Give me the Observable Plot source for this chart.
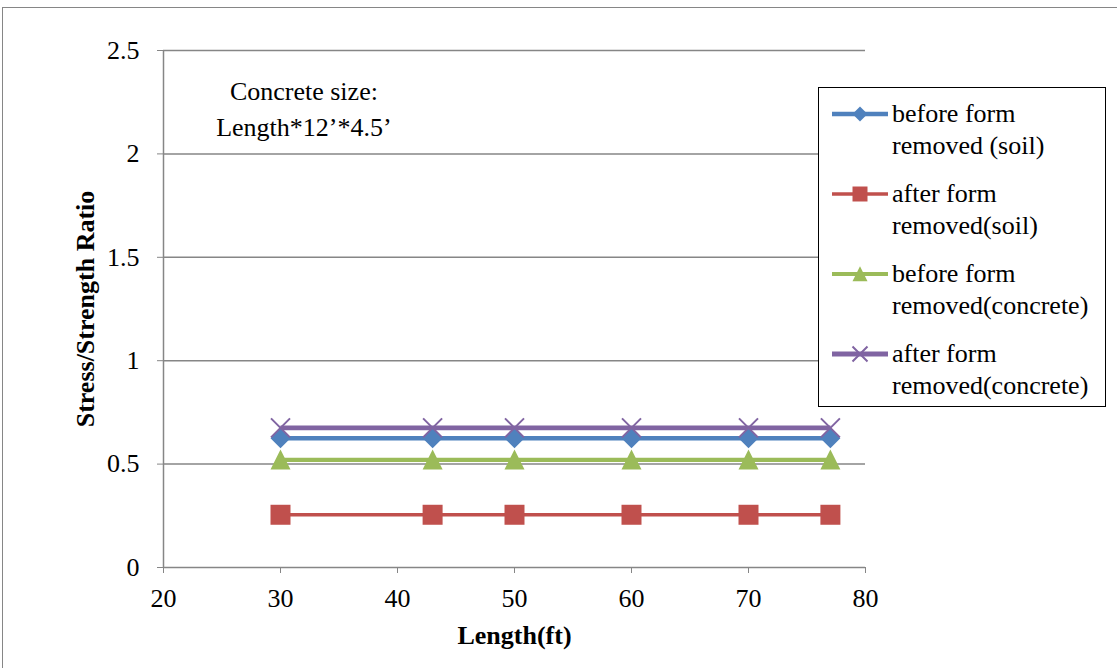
<!DOCTYPE html>
<html>
<head>
<meta charset="utf-8">
<script src="https://cdn.jsdelivr.net/npm/d3@7"></script>
<script src="https://cdn.jsdelivr.net/npm/@observablehq/plot@0.6"></script>
<style>
  body { margin: 0; background: #fff; }
  #wrap { position: relative; width: 1117px; height: 668px; overflow: hidden; font-family: 'Liberation Serif', serif; }
  #frame { position: absolute; left: 2px; top: 7px; right: -5px; bottom: -5px; border-top: 1.5px solid #868686; border-left: 1.5px solid #868686; pointer-events: none; }
  #chart { position: absolute; left: 0; top: 0; }
  #chart svg text { font-family: 'Liberation Serif', serif; }
  #legend { position: absolute; left: 818px; top: 87px; width: 286px; height: 318px; border: 1.5px solid #000; background: #fff; box-sizing: content-box; padding: 0; }
  .entry { position: absolute; left: 13px; display: flex; align-items: flex-start; }
  .entry svg { flex: none; margin-top: 6px; }
  .entry span { font-family: 'Liberation Serif', serif; font-size: 26px; line-height: 32px; margin-left: 4px; color: #000; white-space: nowrap; }
</style>
</head>
<body>
<div id="wrap">
  <div id="chart"></div>
  <div id="frame"></div>
  <div id="legend"></div>
</div>
<script>
// ---- data ----
const lengths = [30, 43, 50, 60, 70, 77];
const beforeSoil = [0.625, 0.625, 0.625, 0.625, 0.625, 0.625];
const afterSoil = [0.255, 0.255, 0.255, 0.255, 0.255, 0.255];
const beforeConcrete = [0.52, 0.52, 0.52, 0.52, 0.52, 0.52];
const afterConcrete = [0.675, 0.675, 0.675, 0.675, 0.675, 0.675];
const seriesNames = ["before form\nremoved (soil)", "after form\nremoved(soil)", "before form\nremoved(concrete)", "after form\nremoved(concrete)"];
const seriesColors = ["#4f81bd", "#c0504d", "#9bbb59", "#8064a2"];
const xTicks = [20, 30, 40, 50, 60, 70, 80];
const yTicks = [0, 0.5, 1, 1.5, 2, 2.5];
const xTitle = "Length(ft)";
const yTitle = "Stress/Strength Ratio";
const noteText = "Concrete size:\nLength*12’*4.5’";
const notePos = {x: 32, y: 2.23};

const seriesValues = [beforeSoil, afterSoil, beforeConcrete, afterConcrete];
const table = seriesValues.flatMap((vals, i) => vals.map((v, j) => ({series: i, x: lengths[j], y: v})));

// ---- marker shapes ----
function shapePath(kind, ctx, r) {
  if (kind === "diamond") { ctx.moveTo(0, -r); ctx.lineTo(r, 0); ctx.lineTo(0, r); ctx.lineTo(-r, 0); ctx.closePath(); }
  else if (kind === "square") { ctx.moveTo(-r, -r); ctx.lineTo(r, -r); ctx.lineTo(r, r); ctx.lineTo(-r, r); ctx.closePath(); }
  else if (kind === "triangle") { ctx.moveTo(0, -r * 1.05); ctx.lineTo(r, r * 0.95); ctx.lineTo(-r, r * 0.95); ctx.closePath(); }
  else if (kind === "times") { ctx.moveTo(-r, -r); ctx.lineTo(r, r); ctx.moveTo(r, -r); ctx.lineTo(-r, r); }
}
const kinds = ["diamond", "square", "triangle", "times"];
const markerR = [10, 10, 10, 9.5];
const lineW = [4.5, 3.5, 4.2, 4.8];
const symbolOf = k => ({draw(ctx, size) { shapePath(k, ctx, Math.sqrt(size / Math.PI)); }});

const FONT = "'Liberation Serif', serif";
const marks = [
  Plot.gridY(yTicks, {stroke: "#868686", strokeOpacity: 1, strokeWidth: 1.5}),
  Plot.ruleX([20], {stroke: "#868686", strokeWidth: 1.5}),
  Plot.axisY(yTicks, {tickSize: 6, tickPadding: 18, stroke: "#868686", fill: "#000", tickFormat: d => String(d), label: null, fontSize: 26}),
  Plot.axisX(xTicks, {tickSize: 6, tickPadding: 15, stroke: "#868686", fill: "#000", tickFormat: d => String(d), label: null, fontSize: 26}),
  Plot.text([yTitle], {frameAnchor: "left", textAnchor: "middle", lineAnchor: "middle", rotate: -90, dx: -78, fontWeight: "bold", fontSize: 26, fill: "#000"}),
  Plot.text([xTitle], {frameAnchor: "bottom", textAnchor: "middle", lineAnchor: "middle", dy: 68, fontWeight: "bold", fontSize: 26, fill: "#000"}),
  Plot.text([noteText], {x: () => notePos.x, y: () => notePos.y, fontSize: 26, lineHeight: 1.38, fill: "#000"})
];
const drawOrder = [1, 2, 0, 3];
for (const i of drawOrder) {
  const data = table.filter(d => d.series === i);
  marks.push(Plot.line(data, {x: "x", y: "y", stroke: seriesColors[i], strokeWidth: lineW[i], strokeLinecap: "butt"}));
}
for (const i of drawOrder) {
  const data = table.filter(d => d.series === i);
  if (kinds[i] === "times") {
    marks.push(Plot.dot(data, {x: "x", y: "y", r: markerR[i], symbol: symbolOf(kinds[i]), fill: "none", stroke: seriesColors[i], strokeWidth: 2}));
  } else {
    marks.push(Plot.dot(data, {x: "x", y: "y", r: markerR[i], symbol: symbolOf(kinds[i]), fill: seriesColors[i], stroke: "none"}));
  }
}

const chart = Plot.plot({
  width: 1117,
  height: 668,
  marginLeft: 163,
  marginRight: 252,
  marginTop: 50,
  marginBottom: 101,
  style: {fontFamily: FONT, fontSize: "26px", color: "#000", background: "transparent"},
  x: {domain: [20, 80]},
  y: {domain: [0, 2.5]},
  marks
});
document.getElementById("chart").appendChild(chart);

// ---- legend ----
const legend = document.getElementById("legend");
const entryTops = [10, 90, 170, 250];
seriesNames.forEach((name, i) => {
  const e = document.createElement("div");
  e.className = "entry";
  e.style.top = entryTops[i] + "px";
  const svg = d3.create("svg").attr("width", 56).attr("height", 20);
  svg.append("line").attr("x1", 0).attr("x2", 56).attr("y1", 10).attr("y2", 10)
    .attr("stroke", seriesColors[i]).attr("stroke-width", lineW[i]).attr("stroke-linecap", "round");
  const p = d3.path();
  shapePath(kinds[i], p, 7.5);
  const m = svg.append("path").attr("d", p.toString()).attr("transform", "translate(28,10)");
  if (kinds[i] === "times") m.attr("fill", "none").attr("stroke", seriesColors[i]).attr("stroke-width", 2);
  else m.attr("fill", seriesColors[i]);
  e.appendChild(svg.node());
  const span = document.createElement("span");
  span.innerHTML = name.split("\n").join("<br>");
  e.appendChild(span);
  legend.appendChild(e);
});
</script>
</body>
</html>
